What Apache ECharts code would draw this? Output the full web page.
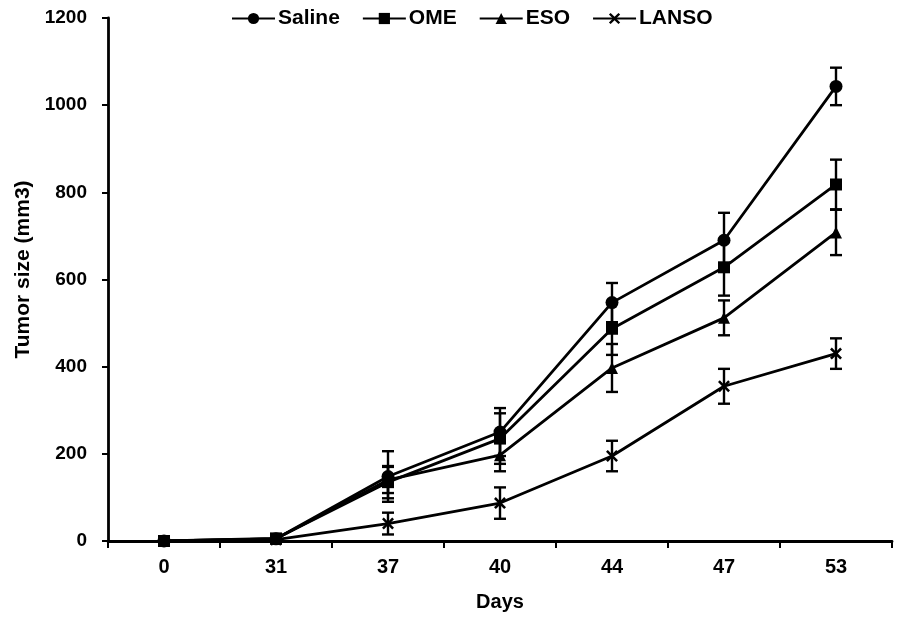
<!DOCTYPE html>
<html>
<head>
<meta charset="utf-8">
<script src="https://cdn.jsdelivr.net/npm/echarts@6/dist/echarts.min.js"></script>
<style>html,body{margin:0;padding:0;background:#fff}#c{width:907px;height:617px}</style>
</head>
<body>
<div id="c"></div>
<script>
const days = ['0', '31', '37', '40', '44', '47', '53'];
const yTicks = [0, 200, 400, 600, 800, 1000, 1200];
const seriesNames = ['Saline', 'OME', 'ESO', 'LANSO'];
const saline = [0, 5, 148, 250, 547, 690, 1043];
const salineErr = [0, 3, 58, 55, 45, 63, 43];
const ome = [0, 6, 135, 235, 487, 628, 818];
const omeErr = [0, 3, 37, 58, 60, 65, 57];
const eso = [0, 5, 140, 197, 397, 512, 708];
const esoErr = [0, 3, 30, 37, 55, 40, 52];
const lanso = [0, 3, 40, 87, 195, 355, 430];
const lansoErr = [0, 2, 25, 36, 35, 40, 35];

const FONT = '"Liberation Sans", Arial, sans-serif';
const xPath = 'path://M0,1.5L1.5,0L5,3.5L8.5,0L10,1.5L6.5,5L10,8.5L8.5,10L5,6.5L1.5,10L0,8.5L3.5,5Z';
const symbols = ['circle', 'rect', 'triangle', xPath];
const sizes = [13, 12, 12, 12];
const vals = [saline, ome, eso, lanso];
const errs = [salineErr, omeErr, esoErr, lansoErr];

const chart = echarts.init(document.getElementById('c'));
const series = [];
vals.forEach((v, i) => {
  series.push({
    name: seriesNames[i] + '_err',
    type: 'custom',
    data: v.map((y, k) => [k, y - errs[i][k], y + errs[i][k]]),
    renderItem: function (params, api) {
      const lo = api.coord([api.value(0), api.value(1)]);
      const hi = api.coord([api.value(0), api.value(2)]);
      const w = 6;
      const st = { stroke: '#000', lineWidth: 2.4 };
      return {
        type: 'group',
        children: [
          { type: 'line', shape: { x1: lo[0], y1: lo[1], x2: hi[0], y2: hi[1] }, style: st },
          { type: 'line', shape: { x1: lo[0] - w, y1: lo[1], x2: lo[0] + w, y2: lo[1] }, style: st },
          { type: 'line', shape: { x1: hi[0] - w, y1: hi[1], x2: hi[0] + w, y2: hi[1] }, style: st }
        ]
      };
    },
    z: 1,
    silent: true
  });
});
vals.forEach((v, i) => {
  series.push({
    name: seriesNames[i],
    type: 'line',
    data: v,
    symbol: symbols[i],
    symbolSize: sizes[i],
    showAllSymbol: true,
    lineStyle: { color: '#000', width: 2.8 },
    itemStyle: { color: '#000', borderWidth: 0 },
    z: 3
  });
});

chart.setOption({
  animation: false,
  backgroundColor: '#fff',
  grid: { left: 108, right: 15, top: 18, bottom: 74, containLabel: false },
  legend: {
    data: seriesNames,
    top: 3,
    left: 226,
    itemWidth: 43,
    itemHeight: 14,
    itemGap: 22,
    textStyle: { fontFamily: FONT, fontWeight: 'bold', fontSize: 21, color: '#000', padding: [0, 0, 0, -2] }
  },
  xAxis: {
    type: 'category',
    data: days,
    boundaryGap: true,
    name: 'Days',
    nameLocation: 'middle',
    nameGap: 51,
    nameTextStyle: { fontFamily: FONT, fontWeight: 'bold', fontSize: 20, color: '#000' },
    axisLine: { lineStyle: { color: '#000', width: 2.8 } },
    axisTick: { show: true, length: 7, lineStyle: { color: '#000', width: 2 }, alignWithLabel: false },
    axisLabel: { fontFamily: FONT, fontWeight: 'bold', fontSize: 20, color: '#000', margin: 16 },
    splitLine: { show: false }
  },
  yAxis: {
    type: 'value',
    min: yTicks[0],
    max: yTicks[yTicks.length - 1],
    interval: 200,
    name: 'Tumor size (mm3)',
    nameLocation: 'middle',
    nameGap: 74,
    nameRotate: 90,
    nameTextStyle: { fontFamily: FONT, fontWeight: 'bold', fontSize: 21, color: '#000', padding: [0, 0, 0, 20] },
    axisLine: { show: true, lineStyle: { color: '#000', width: 2.8 } },
    axisTick: { show: true, length: 6, lineStyle: { color: '#000', width: 2 } },
    axisLabel: { fontFamily: FONT, fontWeight: 'bold', fontSize: 19, color: '#000', margin: 21, formatter: (v) => String(v) },
    splitLine: { show: false }
  },
  series: series
});
</script>
</body>
</html>
